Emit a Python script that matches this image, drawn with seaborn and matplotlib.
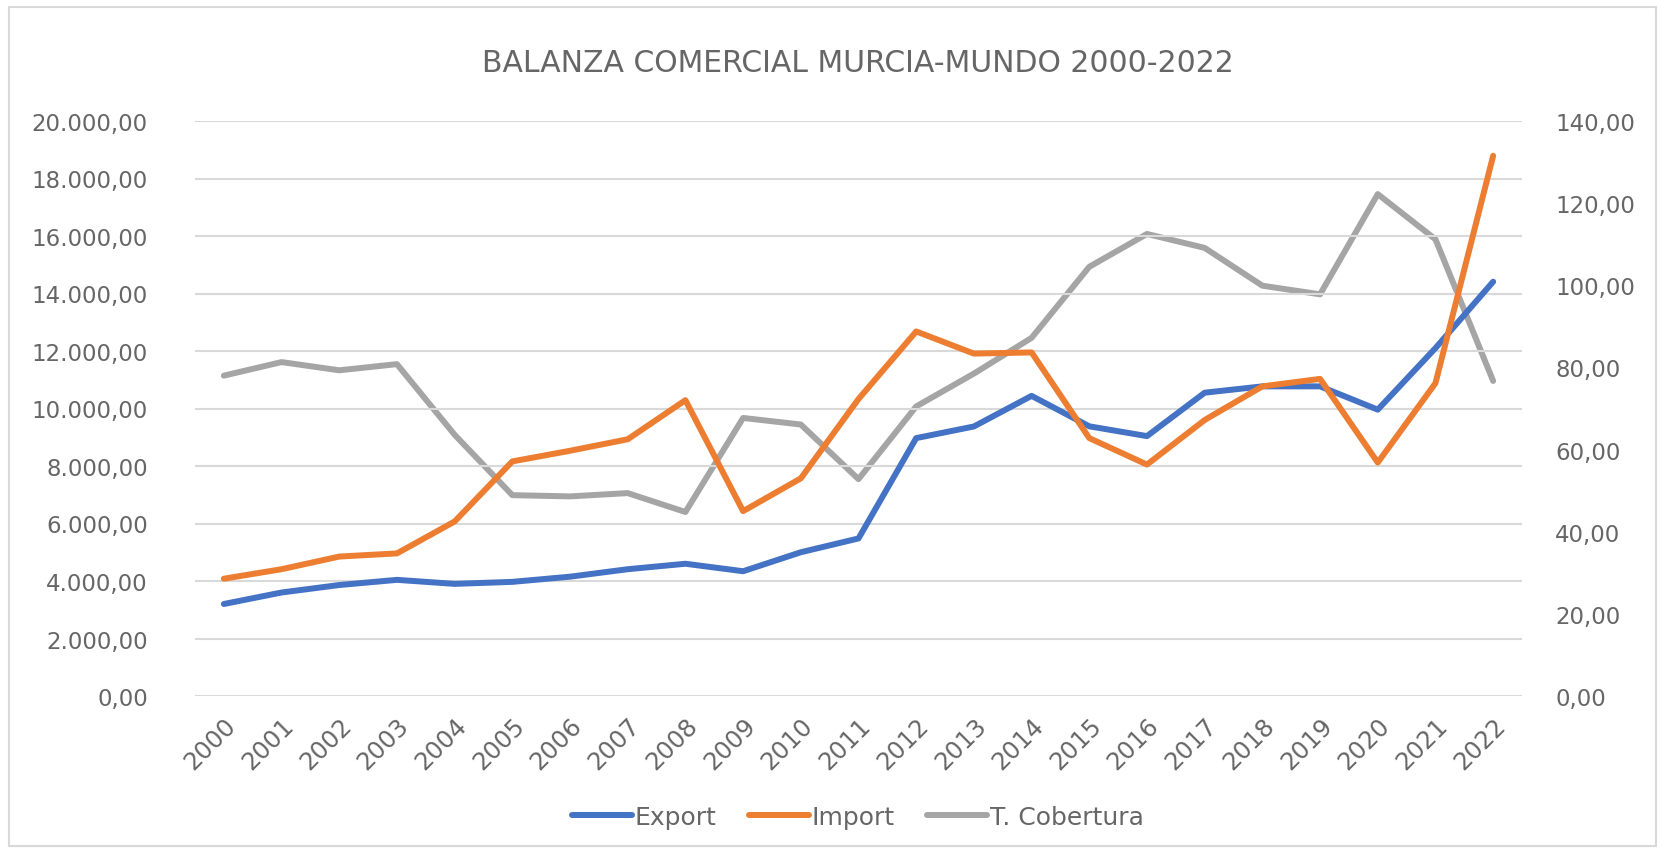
import pandas as pd
import seaborn as sns
import matplotlib.pyplot as plt
from matplotlib.patches import Rectangle
from matplotlib.lines import Line2D
from matplotlib.ticker import FuncFormatter

years = list(range(2000, 2023))
export = [3200, 3600, 3860, 4040, 3900, 3970, 4150, 4410, 4600, 4340, 5000, 5480,
          8970, 9375, 10440, 9380, 9040, 10550, 10770, 10770, 9960, 12100, 14410]
imports = [4080, 4410, 4850, 4960, 6070, 8160, 8530, 8930, 10290, 6430, 7570, 10330,
           12680, 11910, 11950, 8970, 8050, 9600, 10770, 11030, 8120, 10880, 18790]
cobertura = [78.0, 81.3, 79.3, 80.8, 63.6, 48.9, 48.6, 49.4, 44.8, 67.7, 66.1, 52.8,
             70.5, 78.5, 87.2, 104.5, 112.5, 109.1, 99.9, 97.8, 122.2, 111.2, 76.7]

df = pd.DataFrame({"Year": years, "Export": export, "Import": imports, "T. Cobertura": cobertura})

sns.set_style("white")
plt.rcParams["font.family"] = ["DejaVu Sans"]
txt = "#666666"
colors = {"Export": "#4472C4", "Import": "#ED7D31", "T. Cobertura": "#A5A5A5"}

fig = plt.figure(figsize=(16.65, 8.53), dpi=100)
ax = fig.add_axes([195 / 1665, 1 - 697 / 853, (1522 - 195) / 1665, (697 - 122) / 853])
ax2 = ax.twinx()

lw = 4.3
sns.lineplot(data=df, x="Year", y="Export", ax=ax, color=colors["Export"], linewidth=lw,
             solid_capstyle="round", solid_joinstyle="round", zorder=3)
sns.lineplot(data=df, x="Year", y="Import", ax=ax, color=colors["Import"], linewidth=lw,
             solid_capstyle="round", solid_joinstyle="round", zorder=3)
sns.lineplot(data=df, x="Year", y="T. Cobertura", ax=ax2, color=colors["T. Cobertura"], linewidth=lw,
             solid_capstyle="round", solid_joinstyle="round")

# left axis (blue/orange) drawn above the gray line
ax.set_zorder(ax2.get_zorder() + 1)
ax.patch.set_visible(False)


def es_fmt(v, pos=None):
    s = f"{v:,.2f}"
    return s.replace(",", "X").replace(".", ",").replace("X", ".")


ax.set_ylim(0, 20000)
ax.set_yticks(range(0, 20001, 2000))
ax.yaxis.set_major_formatter(FuncFormatter(es_fmt))
ax2.set_ylim(0, 140)
ax2.set_yticks(range(0, 141, 20))
ax2.yaxis.set_major_formatter(FuncFormatter(es_fmt))

ax.set_xlim(1999.5, 2022.5)
ax.set_xticks(years)
ax.set_xticklabels([str(y) for y in years], rotation=45, ha="right", rotation_mode="anchor")

ax.grid(axis="y", color="#D9D9D9", linewidth=1.5)
ax.grid(axis="x", visible=False)
ax2.grid(False)
for a in (ax, ax2):
    for s in a.spines.values():
        s.set_visible(False)
    a.set_xlabel("")
    a.set_ylabel("")
    a.tick_params(length=0, colors=txt, labelsize=16.5)
ax.tick_params(axis="y", pad=34)
ax.tick_params(axis="x", pad=12, labelsize=17.5)
ax2.tick_params(axis="y", pad=24)

fig.text(858 / 1665, 1 - 64 / 853, "BALANZA COMERCIAL MURCIA-MUNDO 2000-2022", ha="center", va="center",
         fontsize=21.5, color=txt)

handles = [Line2D([0], [0], color=colors[k], linewidth=lw, solid_capstyle="round") for k in colors]
leg = fig.legend(handles, list(colors), loc="center", bbox_to_anchor=(858 / 1665, 1 - 818 / 853), ncol=3,
                 frameon=False, fontsize=18, handlelength=2.4, handletextpad=0.1, columnspacing=1.3)
for t in leg.get_texts():
    t.set_color(txt)

fig.patches.append(Rectangle((9 / 1665, 6 / 853), 1 - 18 / 1665, 1 - 14 / 853, transform=fig.transFigure,
                             fill=False, edgecolor="#D9D9D9", linewidth=1.5))

plt.savefig("out.png", dpi=100)
